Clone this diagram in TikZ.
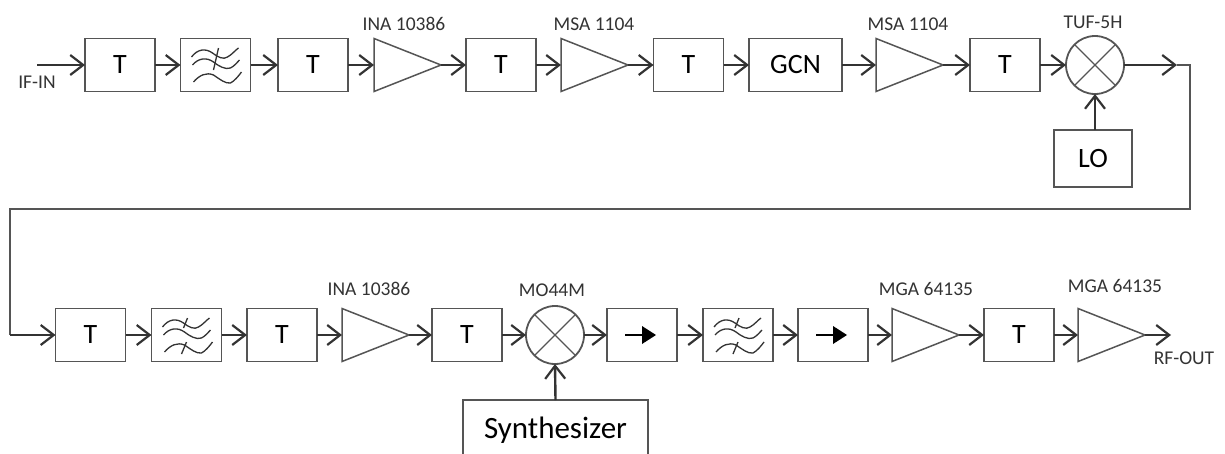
\documentclass[tikz,border=0pt]{standalone}
\usepackage{fontspec}
\setmainfont{Carlito}
\usetikzlibrary{arrows.meta}
\definecolor{boxc}{HTML}{555555}
\definecolor{wirec}{HTML}{333333}
\definecolor{textc}{HTML}{333333}
\tikzset{
  x=1pt,y=-1pt,
  blk/.style={draw=boxc,line width=1.8pt,fill=white,inner sep=0,outer sep=0,minimum width=70pt,minimum height=53pt,text=black,font=\fontsize{28}{28}\selectfont},
  ampb/.style={inner sep=0,outer sep=0,minimum width=67pt,minimum height=53pt},
  tri/.style={draw=boxc,line width=1.5pt,line join=miter},
  mix/.style={draw=boxc,line width=1.8pt,circle,fill=white,inner sep=0,outer sep=0,minimum size=58pt},
  mixx/.style={draw=boxc,line width=1.3pt},
  wire/.style={draw=wirec,line width=2.4pt,-{Straight Barb[length=13pt,width=20pt,line width=2.2pt]}},
  lbl/.style={text=textc,inner sep=0,font=\fontsize{19.5}{20}\selectfont},
  wave/.style={draw=wirec,line width=1.3pt},
  iso/.style={draw=black,line width=1.6pt},
  isot/.style={fill=black},
}
\newcommand{\ampshape}[1]{\draw[tri] (#1.north west) -- (#1.east) -- (#1.south west) -- cycle;}
\newcommand{\mixshape}[1]{%
  \draw[mixx] (#1.45) -- (#1.225) (#1.135) -- (#1.315);}
\newcommand{\wavesat}[1]{%
  \begin{scope}[shift={(#1.center)}]
    \draw[wave] (-24,-8) .. controls (-18,-16) and (-10,-17) .. (-3,-12) .. controls (2,-8) and (8,-5) .. (12,-8) .. controls (16,-10) and (20,-15) .. (23,-17);
    \draw[wave] (-23,0) .. controls (-17,-7) and (-9,-8) .. (-2,-3) .. controls (3,1) and (10,5) .. (15,3) .. controls (19,1) and (22,-3) .. (24,-5);
    \draw[wave] (-22,17) .. controls (-16,10) and (-9,7) .. (-2,10) .. controls (4,14) and (10,19) .. (15,18) .. controls (19,16) and (23,11) .. (26,7);
  \end{scope}}
\newcommand{\ticklong}[1]{%
  \begin{scope}[shift={(#1.center)}]
    \draw[wave] (3,-17) -- (-2,5);
  \end{scope}}
\newcommand{\tickpair}[1]{%
  \begin{scope}[shift={(#1.center)}]
    \draw[wave] (1,-17) -- (-3,-7);
    \draw[wave] (0,7) -- (-5,19);
  \end{scope}}
\newcommand{\isoshape}[1]{%
  \begin{scope}[shift={(#1.center)}]
    \draw[iso] (-17,0) -- (0,0);
    \fill[isot] (0,-9) -- (14,0) -- (0,9) -- cycle;
  \end{scope}}
\begin{document}
\begin{tikzpicture}
\useasboundingbox (0,0) rectangle (1225,453);
\fill[white] (0,0) rectangle (1225,453);
% row 1
\coordinate (in) at (37,65);
\node[blk] (t1) at (120,65) {T};
\node[blk] (f1) at (215.5,65) {};
\node[blk] (t2) at (313,65) {T};
\node[ampb] (a1) at (407.5,65) {};
\node[blk] (t3) at (501,65) {T};
\node[ampb] (a2) at (594.5,65) {};
\node[blk] (t4) at (688.5,65) {T};
\node[blk,minimum width=93pt] (gcn) at (795.5,65) {GCN};
\node[ampb] (a3) at (909.5,65) {};
\node[blk] (t5) at (1005,65) {T};
\node[mix] (m1) at (1095,65) {};
\node[blk,minimum width=78pt,minimum height=57pt] (lo) at (1093,158.5) {LO};
\coordinate (c0) at (1177,65);
\coordinate (c1) at (1190,65);
\coordinate (c2) at (1190,209);
\coordinate (c3) at (10,209);
\coordinate (c4) at (10,335);
% row 2
\node[blk] (t6) at (90.5,335) {T};
\node[blk] (f2) at (186.5,335) {};
\node[blk] (t7) at (282,335) {T};
\node[ampb] (a4) at (375.5,335) {};
\node[blk] (t8) at (467,335) {T};
\node[mix] (m2) at (555,335) {};
\node[blk] (i1) at (642,335) {};
\node[blk] (f3) at (738,335) {};
\node[blk] (i2) at (833,335) {};
\node[ampb] (a5) at (925.5,335) {};
\node[blk] (t9) at (1019,335) {T};
\node[ampb] (a6) at (1111.5,335) {};
\coordinate (out) at (1171,335);
\node[inner sep=0,outer sep=0,minimum width=185pt,minimum height=60pt,font=\fontsize{31}{31}\selectfont] (syn) at (555.5,430) {Synthesizer};
% shapes
\foreach \a in {a1,a2,a3,a4,a5,a6} {\ampshape{\a}}
\foreach \m in {m1,m2} {\mixshape{\m}}
\foreach \f in {f1,f2,f3} {\wavesat{\f}}
\ticklong{f1}
\tickpair{f2}
\tickpair{f3}
\foreach \i in {i1,i2} {\isoshape{\i}}
\draw[draw=boxc,line width=1.8pt] (syn.south west) -- (syn.north west) -- (syn.north east) -- (syn.south east);
% labels
\node[lbl] (l0) at (37,82) {IF-IN};
\node[lbl] (l1) at (404,24) {INA 10386};
\node[lbl] (l2) at (594,24) {MSA 1104};
\node[lbl] (l3) at (908,24) {MSA 1104};
\node[lbl] (l4) at (1093,22) {TUF-5H};
\node[lbl] (l5) at (369,289) {INA 10386};
\node[lbl] (l6) at (552,290) {MO44M};
\node[lbl] (l7) at (926,289) {MGA 64135};
\node[lbl] (l8) at (1115,286) {MGA 64135};
\node[lbl] (l9) at (1184,358) {RF-OUT};
% connectors
\draw[wire] (in) -- (t1.west);
\draw[wire] (t1) -- (f1);
\draw[wire] (f1) -- (t2);
\draw[wire] (t2) -- (a1.west);
\draw[wire] (a1.east) -- (t3.west);
\draw[wire] (t3) -- (a2.west);
\draw[wire] (a2.east) -- (t4.west);
\draw[wire] (t4) -- (gcn);
\draw[wire] (gcn) -- (a3.west);
\draw[wire] (a3.east) -- (t5.west);
\draw[wire] (t5) -- (m1);
\draw[wire] (m1.east) -- (c0);
\draw[wire] (lo.north -| m1.south) -- (m1.south);
\draw[draw=boxc,line width=2pt,line join=miter] (c0) -- (c1) -- (c2) -- (c3) -- (c4);
\draw[wire] (c4) -- (t6.west);
\draw[wire] (t6) -- (f2);
\draw[wire] (f2) -- (t7);
\draw[wire] (t7) -- (a4.west);
\draw[wire] (a4.east) -- (t8.west);
\draw[wire] (t8) -- (m2);
\draw[wire] (m2) -- (i1);
\draw[wire] (i1) -- (f3);
\draw[wire] (f3) -- (i2);
\draw[wire] (i2) -- (a5.west);
\draw[wire] (a5.east) -- (t9.west);
\draw[wire] (t9) -- (a6.west);
\draw[wire] (a6.east) -- (out);
\draw[wire] (syn.north) -- (m2.south);
\end{tikzpicture}
\end{document}
